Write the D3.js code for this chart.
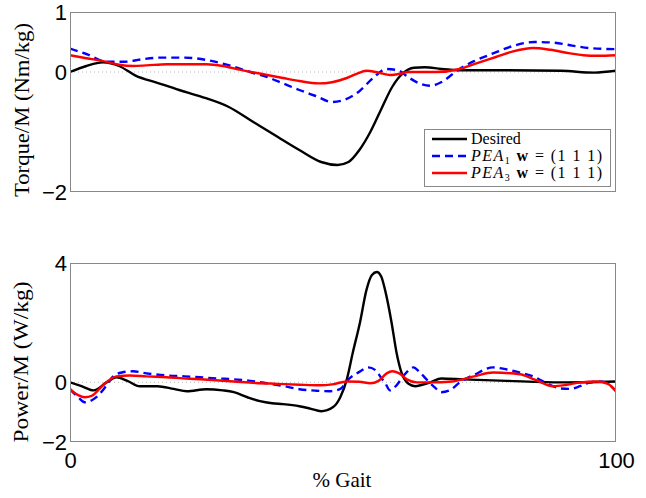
<!DOCTYPE html>
<html>
<head>
<meta charset="utf-8">
<script src="https://cdn.jsdelivr.net/npm/d3@7"></script>
<style>
  html, body { margin: 0; padding: 0; background: #fff; }
  svg { display: block; }
  .tick text { font-family: "Liberation Sans", Arial, sans-serif; font-size: 22px; fill: #000; }
  .lbl { font-family: "Liberation Serif", "Times New Roman", serif; fill: #000; }
</style>
</head>
<body>
<svg id="chart" width="646" height="498"></svg>
<script>
// Gait-cycle torque and power profiles (% gait on x)

// Torque / M (Nm/kg)
const torqueDesiredX = [0,3,6,9,12,16,20,24,29,33.5,38,42,46,49,51,53,55,57,59,61,63,65,68,72,80,90,96,100];
const torqueDesired  = [0,0.1,0.16,0.1,-0.06,-0.18,-0.3,-0.41,-0.58,-0.83,-1.08,-1.3,-1.5,-1.55,-1.5,-1.3,-1.0,-0.62,-0.25,-0.02,0.07,0.08,0.05,0.03,0.03,0.02,-0.01,0.02];

const torquePea1X = [0,3,6.7,10,13,16.5,21,25,28,30,33,36,39,42,45,48,50,53,55.5,58,60,62,64,66,68,71,74,77.5,81,85,88.5,92,95,100];
const torquePea1  = [0.39,0.3,0.17,0.17,0.21,0.24,0.24,0.2,0.14,0.09,0.0,-0.08,-0.19,-0.3,-0.4,-0.5,-0.47,-0.32,-0.1,0.05,0.03,-0.09,-0.19,-0.23,-0.17,0.03,0.18,0.31,0.43,0.5,0.49,0.44,0.4,0.38];

const torquePea3X = [0,3,6.7,9,11.6,14,17.7,21,25,28,31,35,39,42,45.5,48,50.7,52.5,54.3,56.5,58.6,60.5,62,65,67,71.4,74,78,81,84.8,88,91.6,94,96.5,100];
const torquePea3  = [0.28,0.23,0.17,0.12,0.1,0.11,0.13,0.13,0.13,0.1,0.04,-0.03,-0.1,-0.15,-0.19,-0.17,-0.1,-0.03,0.02,-0.01,-0.05,-0.03,0.0,0.0,0.0,0.05,0.13,0.25,0.34,0.4,0.37,0.31,0.28,0.27,0.28];

// Power / M (W/kg)
const powerDesiredX = [0,2.1,4.3,6.7,8.5,10.5,12.8,16,19,21.4,25,28,30,32.5,34.8,37,39,42,44,46,48.2,49.5,50.7,51.8,53.1,54.3,55.3,56.2,57,57.7,58.9,59.8,60.7,62,63.2,64.5,66,68,72,80,90,100];
const powerDesired  = [0,-0.13,-0.27,0,0.17,0.05,-0.13,-0.13,-0.22,-0.3,-0.23,-0.27,-0.33,-0.5,-0.63,-0.7,-0.73,-0.8,-0.88,-0.97,-0.83,-0.5,0.1,1.0,2.0,3.1,3.6,3.7,3.55,3.1,2.0,1.0,0.33,-0.05,-0.13,-0.08,0.0,0.13,0.1,0.05,0.0,0.03];

const powerPea1X = [0,1.5,2.7,4,5,6.5,7.9,9.5,11.5,14,17.7,21,23.8,27,30,33,36,39,42,45,47.6,49.5,51,53,54.6,56,56.8,57.8,58.6,59.8,61,62,62.9,64,65.3,66.7,68,69.7,71.4,74,77.5,80,82.5,84.8,87,89.7,91.5,93.4,95,96.5,98,100];
const powerPea1  = [-0.23,-0.5,-0.67,-0.6,-0.47,-0.15,0.2,0.33,0.37,0.3,0.23,0.2,0.17,0.13,0.1,0.05,-0.03,-0.12,-0.23,-0.28,-0.3,-0.22,0.1,0.35,0.5,0.4,0.2,-0.05,-0.27,-0.1,0.2,0.4,0.5,0.35,0.1,-0.15,-0.33,-0.25,0.0,0.25,0.5,0.43,0.32,0.2,0.0,-0.2,-0.22,-0.13,-0.02,0.03,0.0,-0.3];

const powerPea3X = [0,1.5,2.7,4,5.5,7,8.5,11,14,17.7,22,26,30,34,38,42,45.8,48,50.7,53,55,56.5,58,59,60.3,61.7,63.5,66,70,74,77.5,82.4,85,88.5,91,93.5,96.5,98.5,100];
const powerPea3  = [-0.23,-0.43,-0.5,-0.45,-0.2,0.05,0.2,0.23,0.2,0.17,0.12,0.08,0.03,-0.02,-0.05,-0.08,-0.1,-0.07,0.03,0.02,-0.03,0.05,0.3,0.37,0.3,0.1,0.0,0.0,0.03,0.2,0.33,0.27,0.1,-0.13,-0.08,0.0,0.03,-0.05,-0.3];

const xTicks = [0, 100];
const torqueTicks = [-2, 0, 1];
const powerTicks = [-2, 0, 4];
const torqueDomain = [-2, 1];
const powerDomain = [-2, 4];

const seriesNames = ["Desired", "PEA1", "PEA3"];
const seriesColors = ["#000000", "#0000ff", "#ff0000"];
const seriesDash = [null, "8,5", null];

const svg = d3.select("#chart");
const left = 70, right = 616;
const intFmt = d3.format("d");

const x = d3.scaleLinear().domain([0, 100]).range([left, right]);

const panels = [
  { top: 12, bottom: 192, domain: torqueDomain, ticks: torqueTicks,
    label: "Torque/M (Nm/kg)", labelX: 29, labelLen: 174, labelCy: 110,
    series: [[torqueDesiredX, torqueDesired], [torquePea1X, torquePea1], [torquePea3X, torquePea3]] },
  { top: 263, bottom: 442, domain: powerDomain, ticks: powerTicks,
    label: "Power/M (W/kg)", labelX: 28, labelLen: 161, labelCy: 362,
    series: [[powerDesiredX, powerDesired], [powerPea1X, powerPea1], [powerPea3X, powerPea3]] }
];

panels.forEach((p, pi) => {
  const y = d3.scaleLinear().domain(p.domain).range([p.bottom, p.top]);

  // zero reference line
  svg.append("line")
    .attr("x1", left).attr("x2", right)
    .attr("y1", y(0)).attr("y2", y(0))
    .attr("stroke", "#b8b8b8").attr("stroke-width", 1)
    .attr("stroke-dasharray", "1,3");

  const clipId = "clip" + pi;
  svg.append("clipPath").attr("id", clipId)
    .append("rect").attr("x", left).attr("y", p.top)
    .attr("width", right - left).attr("height", p.bottom - p.top);

  const line = d3.line()
    .x(d => x(d[0])).y(d => y(d[1]))
    .curve(d3.curveMonotoneX);

  const g = svg.append("g").attr("clip-path", `url(#${clipId})`);
  p.series.forEach((s, i) => {
    const pts = s[0].map((xv, k) => [xv, s[1][k]]);
    g.append("path")
      .datum(pts)
      .attr("d", line)
      .attr("fill", "none")
      .attr("stroke", seriesColors[i])
      .attr("stroke-width", 2.4)
      .attr("stroke-linejoin", "round")
      .attr("stroke-dasharray", seriesDash[i]);
  });

  // frame
  svg.append("rect")
    .attr("x", left + 0.5).attr("y", p.top + 0.5)
    .attr("width", right - left - 1).attr("height", p.bottom - p.top - 1)
    .attr("fill", "none").attr("stroke", "#888").attr("stroke-width", 1);

  // y axis labels
  const ya = svg.append("g").attr("transform", `translate(${left},0)`)
    .call(d3.axisLeft(y).tickValues(p.ticks).tickFormat(intFmt).tickSize(0).tickPadding(3));
  ya.select(".domain").remove();

  // y axis title
  svg.append("text").attr("class", "lbl")
    .attr("transform", `translate(${p.labelX},${p.labelCy}) rotate(-90)`)
    .attr("text-anchor", "middle")
    .attr("font-size", 20)
    .attr("textLength", p.labelLen)
    .attr("lengthAdjust", "spacingAndGlyphs")
    .text(p.label);

  if (pi === 1) {
    const xa = svg.append("g").attr("transform", `translate(0,${p.bottom})`)
      .call(d3.axisBottom(x).tickValues(xTicks).tickFormat(intFmt).tickSize(0).tickPadding(10));
    xa.select(".domain").remove();
  }
});

// x axis title
svg.append("text").attr("class", "lbl")
  .attr("x", 342).attr("y", 487)
  .attr("text-anchor", "middle")
  .attr("font-size", 21)
  .text("% Gait");

// legend
const lg = svg.append("g");
lg.append("rect")
  .attr("x", 424.5).attr("y", 129.5).attr("width", 186).attr("height", 57)
  .attr("fill", "#fff").attr("stroke", "#888").attr("stroke-width", 1);

const rowsY = [139, 156, 173];
seriesNames.forEach((name, i) => {
  lg.append("line")
    .attr("x1", 432).attr("x2", 467)
    .attr("y1", rowsY[i]).attr("y2", rowsY[i])
    .attr("stroke", seriesColors[i]).attr("stroke-width", 2.4)
    .attr("stroke-dasharray", seriesDash[i]);
  const t = lg.append("text").attr("class", "lbl")
    .attr("x", 471).attr("y", rowsY[i] + 5)
    .attr("font-size", 16);
  if (i === 0) {
    t.text(name);
  } else {
    t.attr("textLength", 131).attr("lengthAdjust", "spacing");
    t.append("tspan").attr("font-style", "italic").text("PEA");
    t.append("tspan").attr("font-size", 10).attr("dy", 3).text(name.slice(3));
    t.append("tspan").attr("dy", -3).text(" ");
    t.append("tspan").attr("font-weight", "bold").text("w");
    t.append("tspan").text(" = (1 1 1)");
  }
});
</script>
</body>
</html>
